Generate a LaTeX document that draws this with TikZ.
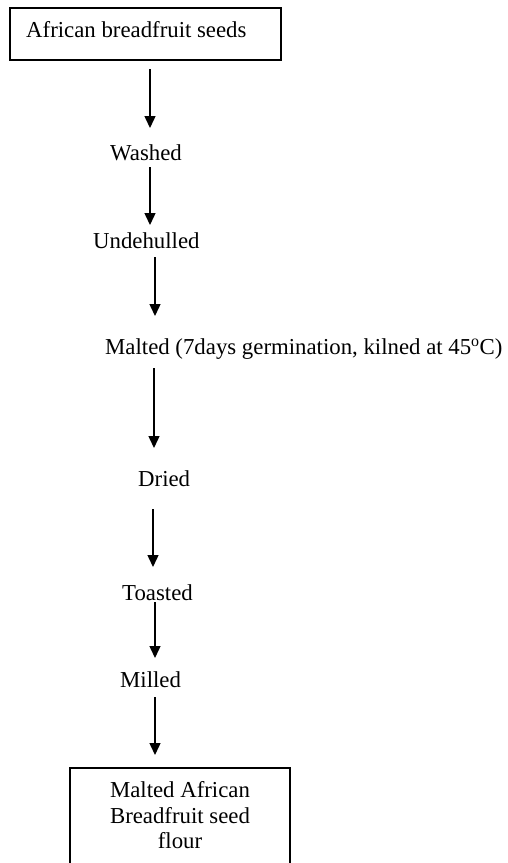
\documentclass[tikz,border=0pt]{standalone}
\usepackage{fontspec}
\setmainfont{Liberation Serif}
\usetikzlibrary{arrows.meta}
\tikzset{
  boxline/.style={draw=black, line width=1.2pt},
  flow/.style={draw=black, line width=1.4pt, -{Triangle[length=12pt,width=11pt]}},
  lbl/.style={anchor=base west, inner sep=0pt, font=\fontsize{22.8}{26}\selectfont},
  ctr/.style={anchor=base, inner sep=0pt, font=\fontsize{22.8}{26}\selectfont}
}
\begin{document}
\begin{tikzpicture}[x=1pt,y=-1pt]
\useasboundingbox (0,0) rectangle (507,863);
\fill[white] (0,0) rectangle (507,863);
% top box
\draw[boxline] (10,8) rectangle (281,60);
\node[lbl] (start) at (26,37) {African breadfruit seeds};
% steps
\node[lbl] (washed) at (110,160) {Washed};
\node[lbl] (undeh) at (93,248) {Undehulled};
\node[lbl] (malted) at (105,354) {Malted (7days germination, kilned at 45\textsuperscript{o}C)};
\node[lbl] (dried) at (138,486) {Dried};
\node[lbl] (toasted) at (122,600) {Toasted};
\node[lbl] (milled) at (120,687) {Milled};
% bottom box
\draw[boxline] (70,870) -- (70,768) -- (290,768) -- (290,870);
\node[ctr] (fin1) at (180,797) {Malted African};
\node[ctr] (fin2) at (180,823) {Breadfruit seed};
\node[ctr] (fin3) at (180,848) {flour};
% arrow ends
\coordinate (a1s) at (150,69);  \coordinate (a1e) at (150,128);
\coordinate (a2s) at (150,167); \coordinate (a2e) at (150,225);
\coordinate (a3s) at (155,257); \coordinate (a3e) at (155,316);
\coordinate (a4s) at (154,368); \coordinate (a4e) at (154,448);
\coordinate (a5s) at (153,509); \coordinate (a5e) at (153,567);
\coordinate (a6s) at (155,602); \coordinate (a6e) at (155,658);
\coordinate (a7s) at (155,697); \coordinate (a7e) at (155,755);
\draw[flow] (a1s) -- (a1e);
\draw[flow] (a2s) -- (a2e);
\draw[flow] (a3s) -- (a3e);
\draw[flow] (a4s) -- (a4e);
\draw[flow] (a5s) -- (a5e);
\draw[flow] (a6s) -- (a6e);
\draw[flow] (a7s) -- (a7e);
\end{tikzpicture}
\end{document}
